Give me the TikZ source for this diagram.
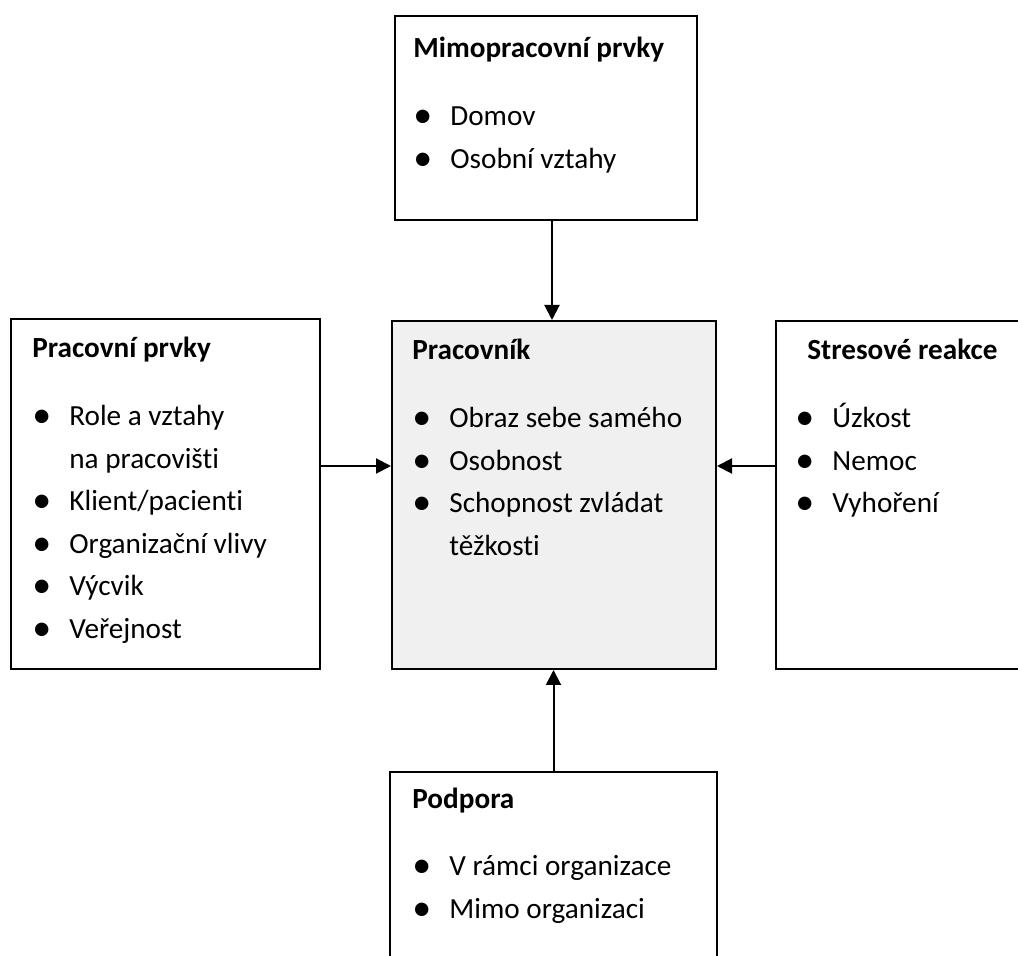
\documentclass[tikz,border=0pt]{standalone}
\usepackage{fontspec}
\usepackage{graphicx}
\setmainfont{Carlito}[Ligatures=NoCommon]
\usetikzlibrary{arrows.meta}

\newcommand{\itm}[1]{\makebox[18.5pt][l]{\raisebox{-0.8pt}{\scalebox{1.3}{\textbullet}}}#1}
\newcommand{\dal}[1]{\hspace*{18.5pt}#1}
\newcommand{\obsah}[1]{\parbox[t]{150pt}{\fontsize{14.6}{21.25}\selectfont #1}}

\begin{document}
\begin{tikzpicture}[x=0.5pt,y=-0.5pt,
    box/.style={draw, line width=1pt, anchor=north west, inner sep=0},
    txt/.style={anchor=base west, inner sep=0},
    arr/.style={line width=1pt, -{Triangle[length=7.5pt,width=7.5pt]}}]

\useasboundingbox (0,0) rectangle (1018,956);
\clip (0,0) rectangle (1018,956);

% the five boxes
\node[box, minimum width=151pt, minimum height=102pt] (mimo) at (394,15) {};
\node[box, minimum width=154.5pt, minimum height=175pt] (links) at (10,318) {};
\node[box, fill=black!6, minimum width=162pt, minimum height=174pt] (prac) at (391,320) {};
\node[box, minimum width=135pt, minimum height=174pt] (stres) at (775,320) {};
\node[box, minimum width=163.5pt, minimum height=110pt] (podp) at (389,771) {};

\node[txt] (mimotxt) at (413,58) {\obsah{\textbf{Mimopracovní prvky}\\[12.75pt]
    \itm{Domov}\\ \itm{Osobní vztahy}}};

\node[txt] (linkstxt) at (32,358) {\obsah{\textbf{Pracovní prvky}\\[12.75pt]
    \itm{Role a vztahy}\\ \dal{na pracovišti}\\ \itm{Klient/pacienti}\\
    \itm{Organizační vlivy}\\ \itm{Výcvik}\\ \itm{Veřejnost}}};

\node[txt] (practxt) at (412,360) {\obsah{\textbf{Pracovník}\\[12.75pt]
    \itm{Obraz sebe samého}\\ \itm{Osobnost}\\ \itm{Schopnost zvládat}\\
    \dal{těžkosti}}};

\node[txt] (strestxt) at (795,360) {\obsah{\hspace*{6pt}\textbf{Stresové reakce}\\[12.75pt]
    \itm{Úzkost}\\ \itm{Nemoc}\\ \itm{Vyhoření}}};

\node[txt] (podptxt) at (412,808) {\obsah{\textbf{Podpora}\\[12.75pt]
    \itm{V rámci organizace}\\ \itm{Mimo organizaci}}};

% arrows into the worker
\coordinate (arm) at (0,466);
\draw[arr] ([xshift=-1pt]prac.north |- mimo.south) -- ([xshift=-1pt]prac.north);
\draw[arr] (podp.north) -- (podp.north |- prac.south);
\draw[arr] (links.east |- arm) -- (prac.west |- arm);
\draw[arr] (stres.west |- arm) -- (prac.east |- arm);

\end{tikzpicture}
\end{document}
